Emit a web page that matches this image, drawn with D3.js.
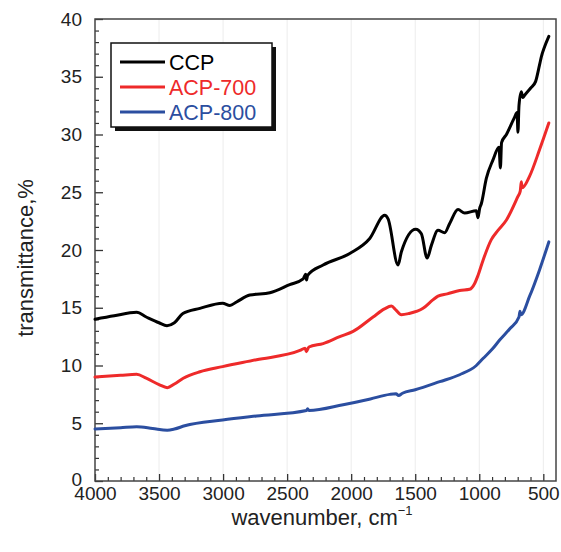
<!DOCTYPE html>
<html>
<head>
<meta charset="utf-8">
<script src="https://cdn.jsdelivr.net/npm/d3@7"></script>
<style>
  html, body { margin: 0; padding: 0; background: #fff; }
  svg { display: block; font-family: "Liberation Sans", Arial, sans-serif; }
</style>
</head>
<body>
<svg id="chart" width="561" height="552"></svg>
<script>
// FTIR spectra: wavenumber (cm-1) and transmittance (%)
const ccpWave = [4000, 3850, 3675, 3600, 3500, 3438, 3380, 3314, 3181, 3004, 2947, 2895, 2791, 2635, 2480, 2375, 2355, 2349, 2340, 2219, 2011, 1855, 1738, 1712, 1634, 1608, 1496, 1452, 1407, 1374, 1322, 1270, 1231, 1166, 1114, 1023, 1010, 997, 984, 945, 893, 846, 835, 826, 788, 724, 705, 698, 690, 672, 660, 646, 600, 560, 530, 516, 490, 457];
const ccpVals = [14.0, 14.3, 14.6, 14.2, 13.7, 13.45, 13.7, 14.5, 14.95, 15.4, 15.2, 15.5, 16.1, 16.3, 17.0, 17.5, 17.9, 17.4, 17.8, 18.7, 19.7, 21.0, 23.0, 22.7, 18.7, 19.85, 21.8, 21.4, 19.3, 20.4, 21.7, 21.5, 22.3, 23.5, 23.2, 23.4, 22.8, 23.6, 24.0, 26.2, 27.8, 28.9, 27.1, 29.3, 30.0, 31.5, 31.9, 30.2, 32.5, 33.7, 33.2, 33.4, 34.0, 34.6, 36.0, 36.7, 37.6, 38.5];

const acp700Wave = [4000, 3800, 3675, 3600, 3500, 3436, 3380, 3311, 3181, 3004, 2739, 2400, 2360, 2350, 2330, 2219, 2089, 1985, 1829, 1740, 1686, 1650, 1608, 1550, 1439, 1360, 1322, 1250, 1153, 1075, 1036, 1010, 971, 906, 854, 788, 700, 680, 672, 665, 607, 529, 457];
const acp700Vals = [9.0, 9.15, 9.24, 8.9, 8.35, 8.08, 8.4, 8.9, 9.46, 9.9, 10.5, 11.3, 11.5, 11.2, 11.6, 11.9, 12.5, 12.95, 14.2, 14.9, 15.15, 14.8, 14.4, 14.5, 14.95, 15.7, 16.0, 16.2, 16.5, 16.6, 17.1, 17.8, 19.1, 20.9, 21.7, 22.6, 24.6, 25.1, 25.9, 25.4, 26.4, 28.7, 31.0];

const acp800Wave = [4000, 3800, 3675, 3550, 3436, 3380, 3300, 3004, 2739, 2349, 2340, 2330, 2063, 1850, 1699, 1650, 1630, 1600, 1500, 1309, 1153, 1023, 971, 900, 841, 760, 690, 682, 675, 607, 529, 457];
const acp800Vals = [4.5, 4.62, 4.7, 4.55, 4.4, 4.5, 4.78, 5.28, 5.63, 6.1, 6.25, 6.1, 6.6, 7.1, 7.5, 7.55, 7.4, 7.6, 7.9, 8.6, 9.2, 10.0, 10.6, 11.4, 12.2, 13.2, 14.2, 14.7, 14.4, 16.0, 18.3, 20.7];

const seriesNames = ["CCP", "ACP-700", "ACP-800"];
const seriesColors = ["#000000", "#ee2a2a", "#2b4ea0"];

const xTicks = [4000, 3500, 3000, 2500, 2000, 1500, 1000, 500];
const yTicks = [0, 5, 10, 15, 20, 25, 30, 35, 40];

const series = [
  { name: seriesNames[0], color: seriesColors[0], pts: ccpWave.map((w, i) => [w, ccpVals[i]]) },
  { name: seriesNames[1], color: seriesColors[1], pts: acp700Wave.map((w, i) => [w, acp700Vals[i]]) },
  { name: seriesNames[2], color: seriesColors[2], pts: acp800Wave.map((w, i) => [w, acp800Vals[i]]) }
];

const svg = d3.select("#chart");
const plotLeft = 95, plotRight = 556, plotTop = 19, plotBottom = 481;

const x = d3.scaleLinear().domain([4000, 401]).range([plotLeft, plotRight]);
const y = d3.scaleLinear().domain([0, 40]).range([plotBottom, plotTop]);

// faint vertical grid at major wavenumber ticks
svg.append("g")
  .selectAll("line")
  .data(xTicks.slice(1))
  .join("line")
  .attr("x1", d => x(d)).attr("x2", d => x(d))
  .attr("y1", plotTop).attr("y2", plotBottom)
  .attr("stroke", "#ececec").attr("stroke-width", 1);

// minor ticks
const xMinor = d3.range(4000, 400, -100).filter(v => v % 500 !== 0);
const yMinor = d3.range(1, 40, 1).filter(v => v % 5 !== 0);

const xAxisMinor = svg.append("g")
  .attr("transform", `translate(0,${plotBottom})`)
  .call(d3.axisBottom(x).tickValues(xMinor).tickSizeInner(-4).tickSizeOuter(0).tickFormat(""));
const yAxisMinor = svg.append("g")
  .attr("transform", `translate(${plotLeft},0)`)
  .call(d3.axisLeft(y).tickValues(yMinor).tickSizeInner(-4).tickSizeOuter(0).tickFormat(""));
[xAxisMinor, yAxisMinor].forEach(g => {
  g.select(".domain").remove();
  g.selectAll(".tick line").attr("stroke", "#333").attr("stroke-width", 1.2);
});

// major axes
const xAxis = svg.append("g")
  .attr("transform", `translate(0,${plotBottom})`)
  .call(d3.axisBottom(x).tickValues(xTicks).tickFormat(d3.format("d"))
    .tickSizeInner(-7).tickSizeOuter(0).tickPadding(6));
const yAxis = svg.append("g")
  .attr("transform", `translate(${plotLeft},0)`)
  .call(d3.axisLeft(y).tickValues(yTicks).tickFormat(d3.format("d"))
    .tickSizeInner(-8).tickSizeOuter(0).tickPadding(13));
[xAxis, yAxis].forEach(g => {
  g.select(".domain").remove();
  g.selectAll(".tick line").attr("stroke", "#333").attr("stroke-width", 1.3);
  g.selectAll(".tick text")
    .attr("fill", "#222")
    .style("font-size", "19px")
    .style("font-family", "Liberation Sans, Arial, sans-serif");
});
// lift the zero label a touch so it clears the first wavenumber label
yAxis.selectAll(".tick text").filter(d => d === 0).attr("dy", "0.22em");

// plot frame
svg.append("rect")
  .attr("x", plotLeft).attr("y", plotTop)
  .attr("width", plotRight - plotLeft).attr("height", plotBottom - plotTop)
  .attr("fill", "none").attr("stroke", "#444").attr("stroke-width", 1.5);

// spectra
const line = d3.line()
  .x(d => x(d[0]))
  .y(d => y(d[1]))
  .curve(d3.curveMonotoneX);

svg.append("g")
  .selectAll("path")
  .data(series)
  .join("path")
  .attr("d", d => line(d.pts))
  .attr("fill", "none")
  .attr("stroke", d => d.color)
  .attr("stroke-width", 3)
  .attr("stroke-linejoin", "round")
  .attr("stroke-linecap", "round");

// axis titles
const xTitle = svg.append("text")
  .attr("x", 322).attr("y", 525)
  .attr("text-anchor", "middle")
  .attr("fill", "#222")
  .style("font-size", "22px");
xTitle.append("tspan").text("wavenumber, cm");
xTitle.append("tspan").attr("dy", "-10").style("font-size", "13px").text("\u22121");

svg.append("text")
  .attr("transform", "translate(33,258) rotate(-90)")
  .attr("text-anchor", "middle")
  .attr("fill", "#222")
  .style("font-size", "22px")
  .text("transmittance,%");

// legend with drop shadow
const lg = svg.append("g");
lg.append("rect")
  .attr("x", 115).attr("y", 47).attr("width", 161).attr("height", 84)
  .attr("fill", "#111");
lg.append("rect")
  .attr("x", 111).attr("y", 43).attr("width", 161).attr("height", 84)
  .attr("fill", "#fff").attr("stroke", "#111").attr("stroke-width", 1.5);

const rows = lg.selectAll("g.row")
  .data(series)
  .join("g")
  .attr("class", "row")
  .attr("transform", (d, i) => `translate(0,${62 + i * 25})`);
rows.append("line")
  .attr("x1", 120).attr("x2", 165)
  .attr("stroke", d => d.color).attr("stroke-width", 3);
rows.append("text")
  .attr("x", 169).attr("y", 7.5)
  .attr("fill", d => d.color)
  .style("font-size", "21.5px")
  .text(d => d.name);
</script>
</body>
</html>
